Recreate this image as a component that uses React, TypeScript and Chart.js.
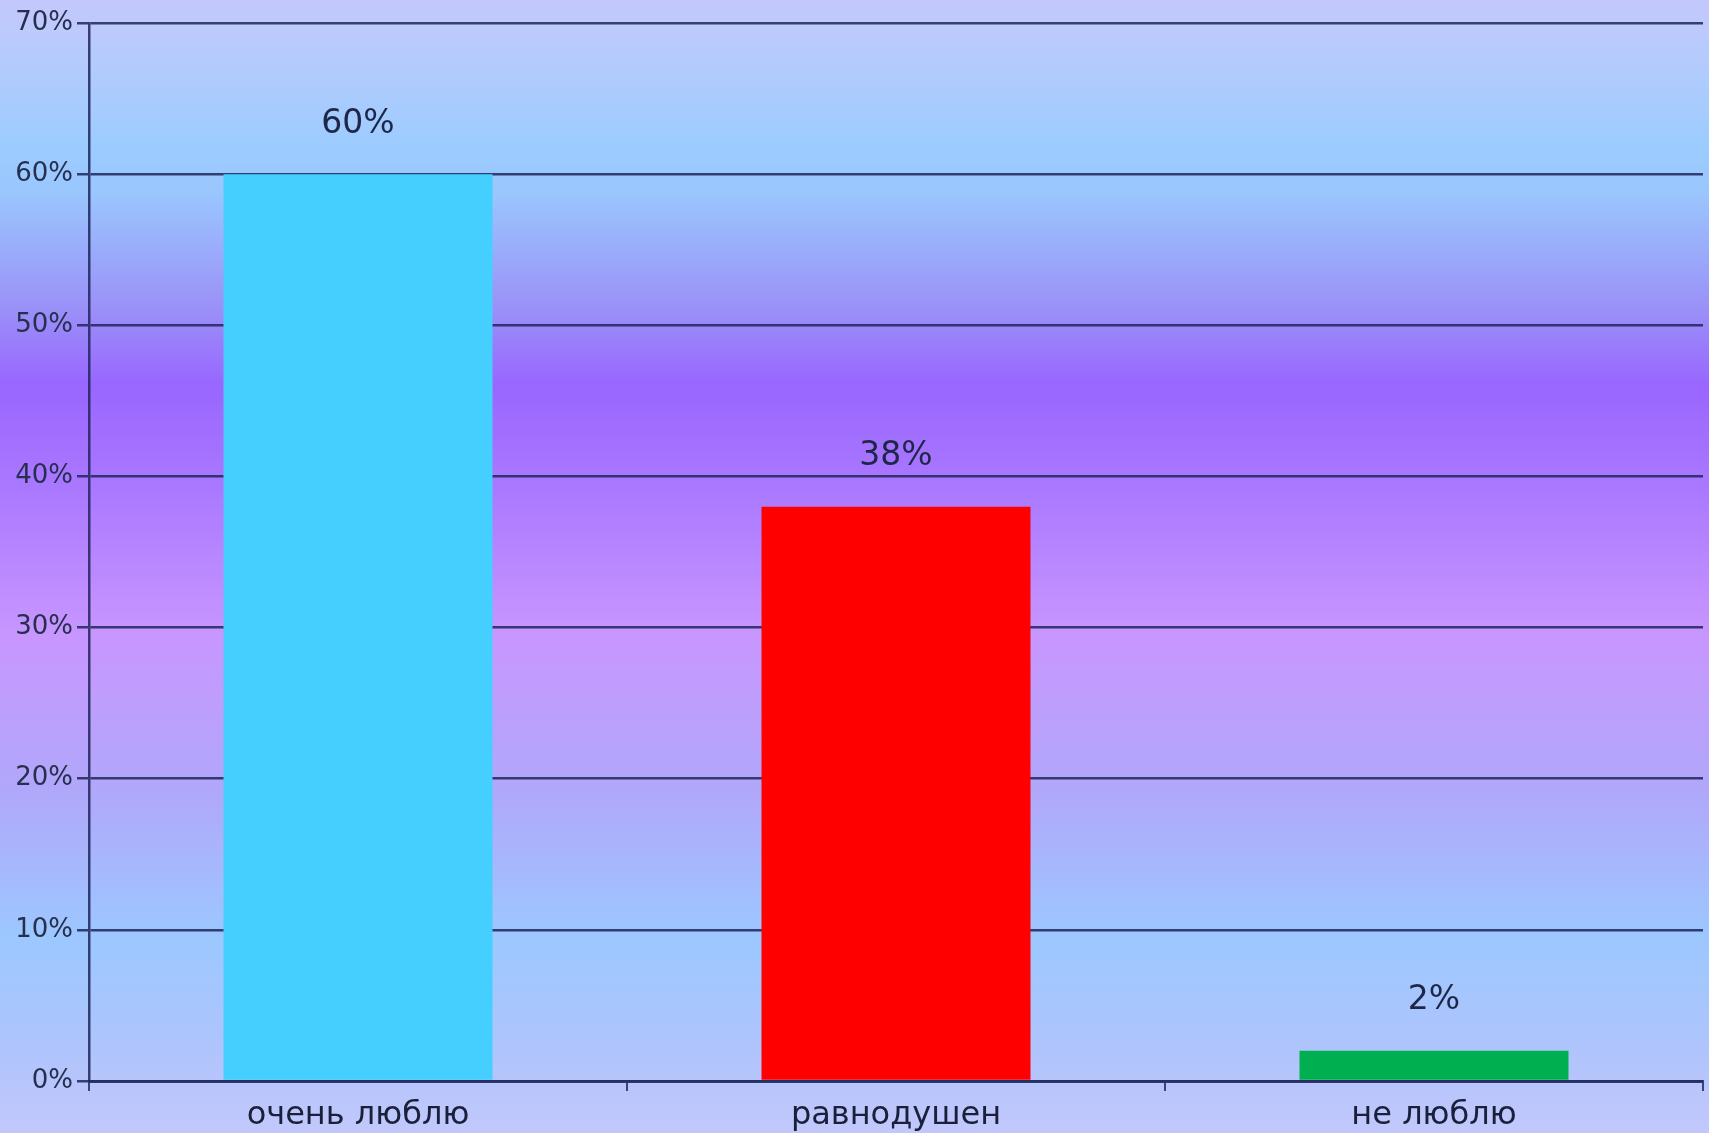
import React, { useEffect, useRef } from "react";
import { Chart, registerables } from "chart.js";

Chart.register(...registerables);

const categories = ["очень люблю", "равнодушен", "не люблю"];
const values = [60, 38, 2];
const barColors = ["#45cfff", "#ff0000", "#00b050"];
const yMax = 70;
const yStep = 10;

const bgPlugin = {
  id: "bgGradient",
  beforeDraw(chart: any) {
    const { ctx, width, height } = chart;
    const g = ctx.createLinearGradient(0, 0, 0, height);
    g.addColorStop(0, "#c4c8fc");
    g.addColorStop(0.03, "#bccafc");
    g.addColorStop(0.13, "#9cccff");
    g.addColorStop(0.17, "#9ac6fe");
    g.addColorStop(0.27, "#9a92f8");
    g.addColorStop(0.34, "#9966ff");
    g.addColorStop(0.43, "#aa78ff");
    g.addColorStop(0.56, "#c896ff");
    g.addColorStop(0.7, "#b0a8fa");
    g.addColorStop(0.83, "#9cc8ff");
    g.addColorStop(0.93, "#b0c4fc");
    g.addColorStop(1, "#c2c8fc");
    ctx.save();
    ctx.fillStyle = g;
    ctx.fillRect(0, 0, width, height);
    ctx.restore();
  },
};

const valueLabelPlugin = {
  id: "valueLabels",
  afterDatasetsDraw(chart: any) {
    const { ctx } = chart;
    const meta = chart.getDatasetMeta(0);
    ctx.save();
    ctx.font = "33px 'DejaVu Sans'";
    ctx.fillStyle = "#1e2748";
    ctx.textAlign = "center";
    ctx.textBaseline = "middle";
    meta.data.forEach((el: any, i: number) => {
      ctx.fillText(`${values[i]}%`, el.x, el.y - 50);
    });
    ctx.restore();
  },
};

export default function App() {
  const ref = useRef<HTMLCanvasElement>(null);
  useEffect(() => {
    if (!ref.current) return;
    const chart = new Chart(ref.current, {
      type: "bar",
      data: {
        labels: categories,
        datasets: [
          {
            data: values,
            backgroundColor: barColors,
            borderWidth: 0,
            categoryPercentage: 1,
            barPercentage: 0.5,
          },
        ],
      },
      options: {
        responsive: false,
        animation: false,
        devicePixelRatio: 1,
        layout: { padding: { top: 23, right: 6, left: 0, bottom: 0 } },
        plugins: {
          legend: { display: false },
          tooltip: { enabled: false },
          title: { display: false },
        },
        scales: {
          x: {
            afterFit(scale: any) {
              scale.height = 52;
            },
            grid: {
              display: true,
              drawOnChartArea: false,
              drawTicks: true,
              tickLength: 10,
              color: "rgba(35,45,95,0.85)",
              lineWidth: 2,
              offset: true,
            },
            border: { display: true, color: "rgba(35,45,95,0.85)", width: 3 },
            ticks: {
              color: "#1a1f3a",
              font: { family: "'DejaVu Sans'", size: 32 },
              padding: 5,
            },
          },
          y: {
            min: 0,
            max: yMax,
            afterFit(scale: any) {
              scale.width = 89;
            },
            grid: {
              color: "rgba(30,38,90,0.85)",
              lineWidth: 2.5,
              tickLength: 12,
              drawTicks: true,
            },
            border: { display: true, color: "rgba(30,38,90,0.85)", width: 2.5 },
            ticks: {
              stepSize: yStep,
              color: "#26304e",
              font: { family: "'DejaVu Sans'", size: 26 },
              padding: 4,
              callback: (v: any) => `${v}%`,
            },
          },
        },
      },
      plugins: [bgPlugin, valueLabelPlugin],
    });
    return () => chart.destroy();
  }, []);
  return (
    <div style={{ position: "fixed", left: 0, top: 0, width: 1709, height: 1133 }}>
      <canvas ref={ref} width={1709} height={1133} />
    </div>
  );
}
